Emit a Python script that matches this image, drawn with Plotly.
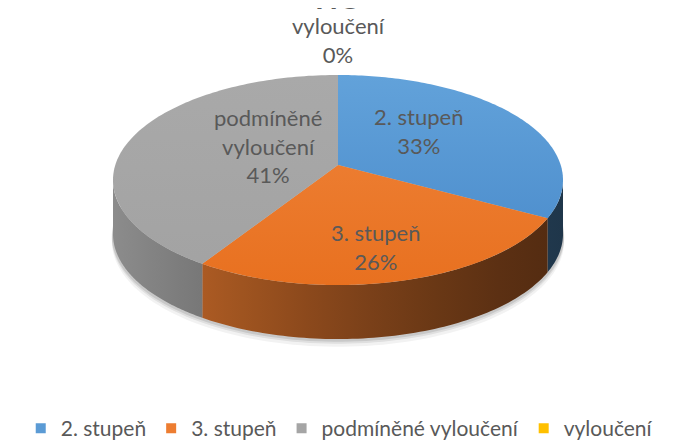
import numpy as np
import plotly.graph_objects as go

# data
CATEGORIES = ["2. stupeň", "3. stupeň", "podmíněné vyloučení", "vyloučení"]
SHARES = [33, 26, 41, 0]
COLORS = ["#5B9BD5", "#ED7D31", "#A5A5A5", "#FFC000"]
TOP_COLORS = [["#62A2DA", "#4788C9"], ["#EF853C", "#E8701F"], ["#A9A9A9", "#A2A2A2"], ["#FFC000", "#FFC000"]]
LABEL_TEXT = ["2. stupeň<br>33%", "3. stupeň<br>26%", "podmíněné<br>vyloučení<br>41%", "vyloučení<br>0%"]
LABEL_XY = [(418, 131), (375, 247), (268, 146), (338, 40)]

# 3D pie geometry (screen units, page pixels)
W, H = 676, 441
OFF = 8             # page body margin
CX, CY = 338, 165
P = 0.1429          # perspective
K, KS = 222.7, 102.9
DEPTH = 54
X_LEFT, X_RIGHT = CX - 225, CX + 225


def proj(theta_deg, r=1.0, drop=0.0):
    th = np.radians(theta_deg)
    u, v = r * np.sin(th), r * np.cos(th)
    den = 1 + P * v
    return CX + K * u / den, CY - KS * v / den + drop


def hex_rgb(h):
    h = h.lstrip("#")
    return [int(h[i:i + 2], 16) for i in (0, 2, 4)]


def shade(color, t):
    # t: 0 at left edge, 1 at right edge
    f = 0.35 + 0.5 * (1 - t) ** 1.3
    r, g, b = [int(c * f) for c in hex_rgb(color)]
    return f"rgb({r},{g},{b})"


fig = go.Figure()

# soft shadow
for off, a in [(7, 0.05), (4, 0.08), (2, 0.10)]:
    th = np.linspace(0, 360, 200)
    x, y = proj(th, 1.005, DEPTH + off)
    fig.add_trace(go.Scatter(x=x, y=y, fill="toself", mode="none",
                             fillcolor=f"rgba(0,0,0,{a})", showlegend=False, hoverinfo="skip"))

total = sum(SHARES)
bounds = np.concatenate([[0], np.cumsum(SHARES) / total * 360])
sil = np.degrees(np.arccos(-P))  # silhouette angle

# side walls
for i, col in enumerate(COLORS):
    a0, a1 = max(bounds[i], sil), min(bounds[i + 1], 360 - sil)
    if a1 <= a0:
        continue
    th = np.linspace(a0, a1, 80)
    xt, yt = proj(th)
    xb, yb = proj(th[::-1], 1.0, DEPTH)
    ts = np.linspace(0, 1, 8)
    fig.add_trace(go.Scatter(
        x=np.concatenate([xt, xb]), y=np.concatenate([yt, yb]),
        fill="toself", mode="none", showlegend=False, hoverinfo="skip",
        fillgradient=dict(type="horizontal", start=X_LEFT, stop=X_RIGHT,
                          colorscale=[[t, shade(col, t)] for t in ts]),
    ))

# top faces
for i, col in enumerate(COLORS):
    if SHARES[i] == 0:
        continue
    th = np.linspace(bounds[i], bounds[i + 1], 120)
    xa, ya = proj(th)
    fig.add_trace(go.Scatter(
        x=np.concatenate([[CX], xa, [CX]]), y=np.concatenate([[CY], ya, [CY]]),
        fill="toself", mode="none", showlegend=False, hoverinfo="skip",
        fillgradient=dict(type="vertical", start=75, stop=290,
                          colorscale=[[0, TOP_COLORS[i][0]], [1, TOP_COLORS[i][1]]]),
    ))

# legend entries
for cat, col in zip(CATEGORIES, COLORS):
    fig.add_trace(go.Scatter(x=[None], y=[None], mode="markers", name=cat,
                             marker=dict(symbol="square", size=10, color=col)))

for txt, (x, y) in zip(LABEL_TEXT, LABEL_XY):
    fig.add_annotation(x=x, y=y, text=txt, showarrow=False,
                       font=dict(family="Lato", size=22, color="#595959"))

# chart title, cut off at the top edge like in the source
fig.add_annotation(x=CX, y=17, text="<b>HO</b>", showarrow=False, yanchor="bottom",
                   font=dict(family="Lato", size=30, color="#595959"))

fig.update_layout(
    width=W, height=H, autosize=False,
    margin=dict(l=0, r=0, t=0, b=0),
    paper_bgcolor="white", plot_bgcolor="white",
    xaxis=dict(range=[OFF, W + OFF], visible=False, fixedrange=True),
    yaxis=dict(range=[H + OFF, OFF], visible=False, fixedrange=True),
    legend=dict(orientation="h", x=0.49, xanchor="center", y=0.0, yanchor="bottom",
                font=dict(family="Lato", size=21, color="#595959"),
                itemwidth=30, tracegroupgap=0),
)

fig.write_html("out.html")
